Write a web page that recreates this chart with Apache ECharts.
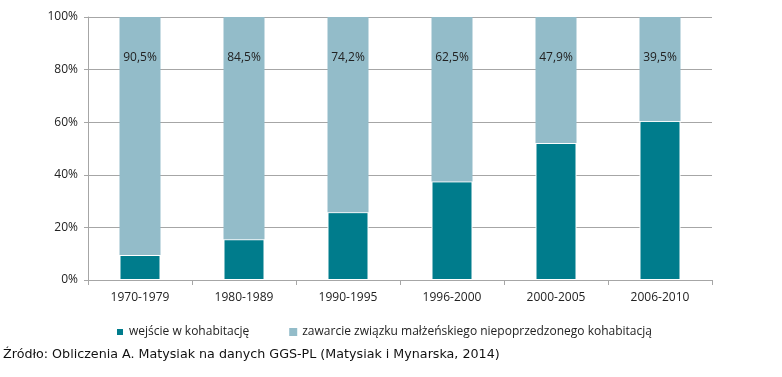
<!DOCTYPE html>
<html>
<head>
<meta charset="utf-8">
<script src="https://cdn.jsdelivr.net/npm/echarts@6/dist/echarts.min.js"></script>
<style>
html,body{margin:0;padding:0;background:#fff;}
#chart{width:782px;height:377px;}
</style>
</head>
<body>
<div id="chart"></div>
<script>
// okresy i udziały (%)
var categories = ['1970-1979', '1980-1989', '1990-1995', '1996-2000', '2000-2005', '2006-2010'];
var kohabitacja = [9.5, 15.5, 25.8, 37.5, 52.1, 60.5];
var malzenstwo = [90.5, 84.5, 74.2, 62.5, 47.9, 39.5];
var yTicks = [0, 20, 40, 60, 80, 100];

var seriesNames = ['wejście w kohabitację', 'zawarcie związku małżeńskiego niepoprzedzonego kohabitacją'];
var zrodlo = 'Źródło: Obliczenia A. Matysiak na danych GGS-PL (Matysiak i Mynarska, 2014)';

var font = '"Open Sans", "DejaVu Sans", sans-serif';

var myChart = echarts.init(document.getElementById('chart'));
myChart.setOption({
    backgroundColor: '#fff',
    animation: false,
    textStyle: {fontFamily: font},
    grid: {left: 88, right: 70, top: 17, bottom: 97},
    legend: {
        data: seriesNames,
        top: 321,
        left: 110,
        icon: 'rect',
        itemWidth: 8,
        itemHeight: 8,
        itemGap: 40,
        textStyle: {fontFamily: font, fontSize: 12, color: '#222'}
    },
    xAxis: {
        type: 'category',
        data: categories,
        axisLine: {lineStyle: {color: '#a6a6a6'}},
        axisTick: {show: true, alignWithLabel: false, length: 5, lineStyle: {color: '#a6a6a6'}},
        axisLabel: {color: '#222', fontSize: 12, margin: 12, fontFamily: font}
    },
    yAxis: {
        type: 'value',
        min: yTicks[0],
        max: yTicks[yTicks.length - 1],
        interval: 20,
        axisLine: {show: true, lineStyle: {color: '#a6a6a6'}},
        axisTick: {show: true, length: 4, lineStyle: {color: '#a6a6a6'}},
        splitLine: {lineStyle: {color: '#a6a6a6'}},
        axisLabel: {formatter: '{value}%', color: '#222', fontSize: 12, margin: 10, fontFamily: font}
    },
    series: [
        {
            name: seriesNames[0],
            type: 'bar',
            stack: 'total',
            barWidth: 41,
            itemStyle: {color: '#007c8c', borderColor: '#fff', borderWidth: 1},
            data: kohabitacja
        },
        {
            name: seriesNames[1],
            type: 'bar',
            stack: 'total',
            barWidth: 41,
            itemStyle: {color: '#93bcc9'},
            label: {
                show: true,
                position: 'insideTop',
                distance: 35,
                color: '#222',
                fontSize: 12,
                fontFamily: font,
                formatter: function (p) { return String(p.value).replace('.', ',') + '%'; }
            },
            data: malzenstwo
        }
    ],
    graphic: [{
        type: 'text',
        left: 3,
        top: 348,
        style: {text: zrodlo, fontSize: 12.7, fill: '#111', fontFamily: '"DejaVu Sans", sans-serif'}
    }]
});
</script>
</body>
</html>
